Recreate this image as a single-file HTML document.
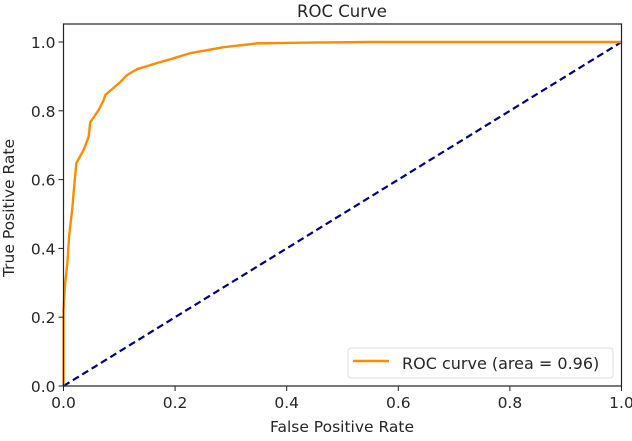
<!DOCTYPE html>
<html><head><meta charset="utf-8"><style>
body{margin:0;background:#fff;}
svg text{font-family:"DejaVu Sans","Liberation Sans",sans-serif;fill:#262626;}
</style></head><body>
<svg width="632" height="436" viewBox="0 0 632 436">
<g id="plot"></g>
</svg>
<script>
const fprValues=[0,0,0,0.003,0.007,0.010,0.016,0.018,0.023,0.036,0.045,0.048,0.063,0.072,0.075,0.102,0.114,0.132,0.168,0.198,0.228,0.287,0.347,0.425,0.55,1.0];
const tprValues=[0,0.14,0.22,0.30,0.358,0.434,0.52,0.56,0.648,0.686,0.724,0.767,0.802,0.831,0.846,0.884,0.904,0.921,0.939,0.953,0.968,0.985,0.996,0.998,1.0,1.0];
const diagX=[0,1];
const diagY=[0,1];
const tickValues=[0,0.2,0.4,0.6,0.8,1.0];
const tickLabels=["0.0","0.2","0.4","0.6","0.8","1.0"];
const X0=63.5,X1=621.5,Y0=386,YTOP=24;
const sx=v=>X0+v*(X1-X0);
const sy=v=>Y0-v*(Y0-42)/1.0;
const NS="http://www.w3.org/2000/svg";
const g=document.getElementById('plot');
function mk(t,a,p){const e=document.createElementNS(NS,t);for(const k in a)e.setAttribute(k,a[k]);(p||g).appendChild(e);return e;}
let d=mk('polyline',{points:diagX.map((x,i)=>sx(x)+','+sy(diagY[i])).join(' '),fill:'none',stroke:'#000080','stroke-width':2.2,'stroke-dasharray':'7,4'});


let r=mk('polyline',{points:fprValues.map((x,i)=>sx(x)+','+sy(tprValues[i])).join(' '),fill:'none',stroke:'#ff8c00','stroke-width':2.4,'stroke-linejoin':'round'});


let f=mk('rect',{x:X0,y:YTOP,width:X1-X0,height:Y0-YTOP,fill:'none',stroke:'#222','stroke-width':1.2});


tickValues.forEach((v,i)=>{
 let t=mk('line',{x1:sx(v),x2:sx(v),y1:Y0,y2:Y0+5,stroke:'#222','stroke-width':1});
 
 
 let l=mk('text',{x:sx(v),y:Y0+22,'text-anchor':'middle','font-size':15.5});
 l.textContent=tickLabels[i];
 
 
 let t2=mk('line',{x1:X0-5,x2:X0,y1:sy(v),y2:sy(v),stroke:'#222','stroke-width':1});
 
 
 let l2=mk('text',{x:X0-8,y:sy(v)+6,'text-anchor':'end','font-size':15.5});
 l2.textContent=tickLabels[i];
 
 
});
</script>
<svg width="632" height="436" style="position:absolute;left:0;top:0">
<text x="342" y="17" text-anchor="middle" font-size="16.5">ROC Curve</text>
<text x="342" y="432" text-anchor="middle" font-size="15.5">False Positive Rate</text>
<text transform="translate(14,208) rotate(-90)" text-anchor="middle" font-size="15.5">True Positive Rate</text>
<g>
<rect x="348" y="348" width="265" height="30" rx="3" fill="#fff" stroke="#ddd" stroke-width="1"/>
<line x1="353" y1="361" x2="389" y2="361" stroke="#ff8c00" stroke-width="2.4"/>
<text x="402" y="369" font-size="16">ROC curve (area = 0.96)</text>
</g>
</svg>
</body></html>
